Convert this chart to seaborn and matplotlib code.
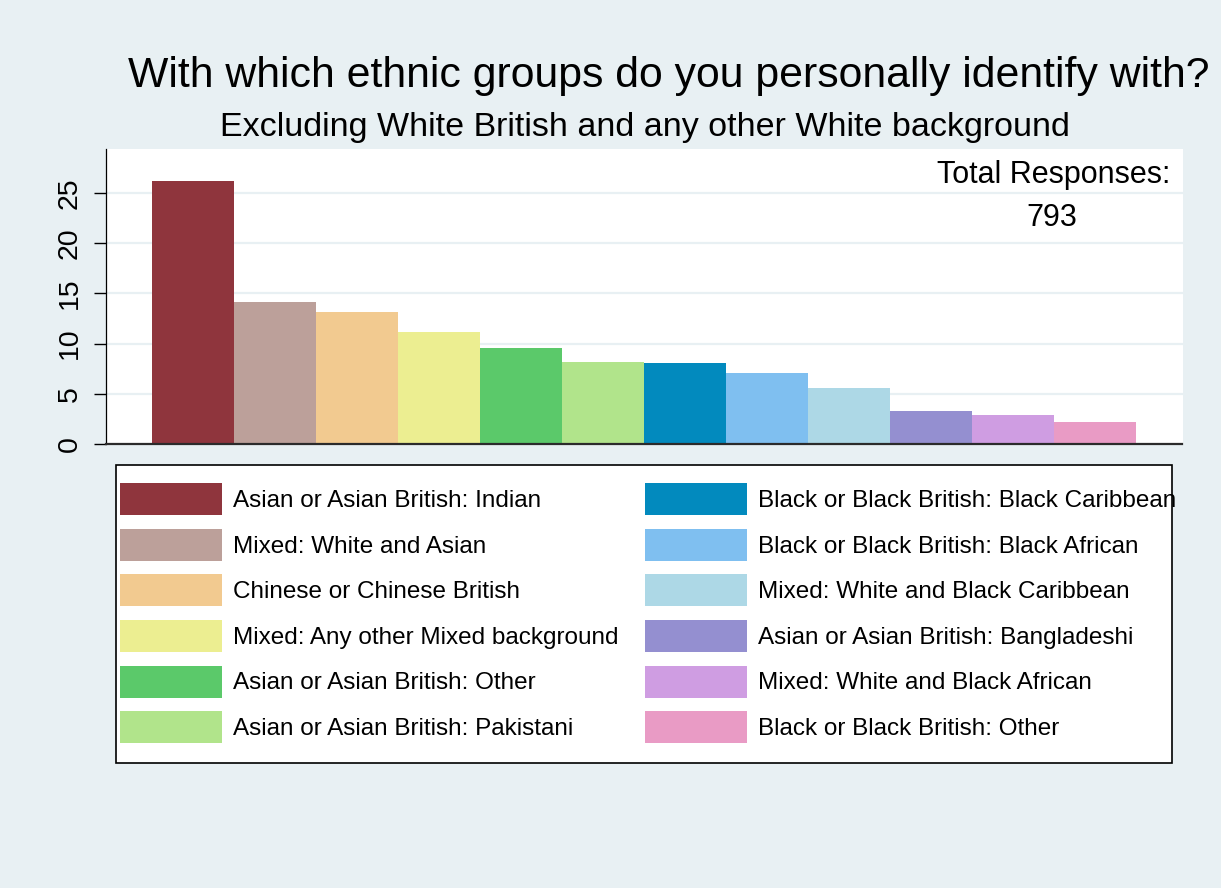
import matplotlib
matplotlib.use('Agg')
import matplotlib.pyplot as plt
import seaborn as sns
import pandas as pd
from matplotlib.patches import Rectangle

# ------------------------------------------
# data (percent of responses)
# ------------------------------------------
groups = [
    'Asian or Asian British: Indian',
    'Mixed: White and Asian',
    'Chinese or Chinese British',
    'Mixed: Any other Mixed background',
    'Asian or Asian British: Other',
    'Asian or Asian British: Pakistani',
    'Black or Black British: Black Caribbean',
    'Black or Black British: Black African',
    'Mixed: White and Black Caribbean',
    'Asian or Asian British: Bangladeshi',
    'Mixed: White and Black African',
    'Black or Black British: Other',
]
shares = [26.2, 14.1, 13.1, 11.2, 9.6, 8.2, 8.1, 7.1, 5.6, 3.3, 2.9, 2.2]
y_ticks = [0, 5, 10, 15, 20, 25]
total_responses = 793

bar_colors = ['#8f353d', '#bca09a', '#f2ca90', '#ecee91', '#5bc96a', '#b1e48b',
              '#028abe', '#7fbff0', '#add8e6', '#948fd0', '#cf9de2', '#e99bc5']
BG = '#e8f0f3'

df = pd.DataFrame({'group': groups, 'share': shares})

sns.set_style('white')
plt.rcParams['font.family'] = ['Liberation Sans', 'DejaVu Sans']
plt.rcParams['text.color'] = 'black'
plt.rcParams['ytick.color'] = 'black'
plt.rcParams['ytick.labelcolor'] = 'black'

fig = plt.figure(figsize=(12.21, 8.88), dpi=100, facecolor=BG)
ax = fig.add_axes([105.7 / 1221, 1 - 444.3 / 888, (1182.5 - 105.7) / 1221, (444.3 - 149) / 888])
ax.set_facecolor('white')

sns.barplot(data=df, x='group', y='share', hue='group', order=groups, hue_order=groups,
            palette=bar_colors, saturation=1, width=1, dodge=False, linewidth=0,
            legend=True, ax=ax)

handles, labels = ax.get_legend_handles_labels()
ax.get_legend().remove()

ax.set_xlim(-1.07, 12.07)
ax.set_ylim(0, 29.35)
ax.set_xlabel('')
ax.set_ylabel('')
ax.set_yticks(y_ticks)
ax.set_yticklabels([str(t) for t in y_ticks], fontsize=20.5, rotation=90, va='center', ha='right')
ax.tick_params(axis='x', bottom=False, labelbottom=False)
ax.tick_params(axis='y', left=True, length=9, width=1, color='black', pad=7.5)

ax.set_axisbelow(True)
ax.yaxis.grid(True, color=BG, linewidth=1.6)
ax.xaxis.grid(False)

for side in ['top', 'right']:
    ax.spines[side].set_visible(False)
ax.spines['left'].set_color('black')
ax.spines['left'].set_linewidth(0.9)
ax.spines['bottom'].set_color('#2b2b2b')
ax.spines['bottom'].set_linewidth(1.6)

# titles
fig.text(669 / 1221, 1 - 86.7 / 888, 'With which ethnic groups do you personally identify with?',
         ha='center', va='baseline', fontsize=30.8, color='black')
fig.text(644.5 / 1221, 1 - 136 / 888, 'Excluding White British and any other White background',
         ha='center', va='baseline', fontsize=24.5, color='black')

# total responses note
fig.text(1053.5 / 1221, 1 - 182.7 / 888, 'Total Responses:', ha='center', va='baseline',
         fontsize=22, color='black')
fig.text(1052 / 1221, 1 - 226 / 888, str(total_responses), ha='center', va='baseline',
         fontsize=22, color='black')

# legend box + legend
frame = Rectangle((116 / 1221, 1 - 763 / 888), 1056 / 1221, 298 / 888,
                  transform=fig.transFigure, facecolor='white', edgecolor='black',
                  linewidth=1.2, zorder=1)
fig.add_artist(frame)

fig.legend(handles, labels, loc='upper left', bbox_to_anchor=(120 / 1221, 1 - 483 / 888),
           ncol=2, frameon=False, fontsize=17.5, handlelength=4.2, handleheight=1.65,
           handletextpad=0.45, columnspacing=1.07, labelspacing=0.56,
           borderpad=0, borderaxespad=0, labelcolor='black')

fig.savefig('out.png', dpi=100, facecolor=BG)
